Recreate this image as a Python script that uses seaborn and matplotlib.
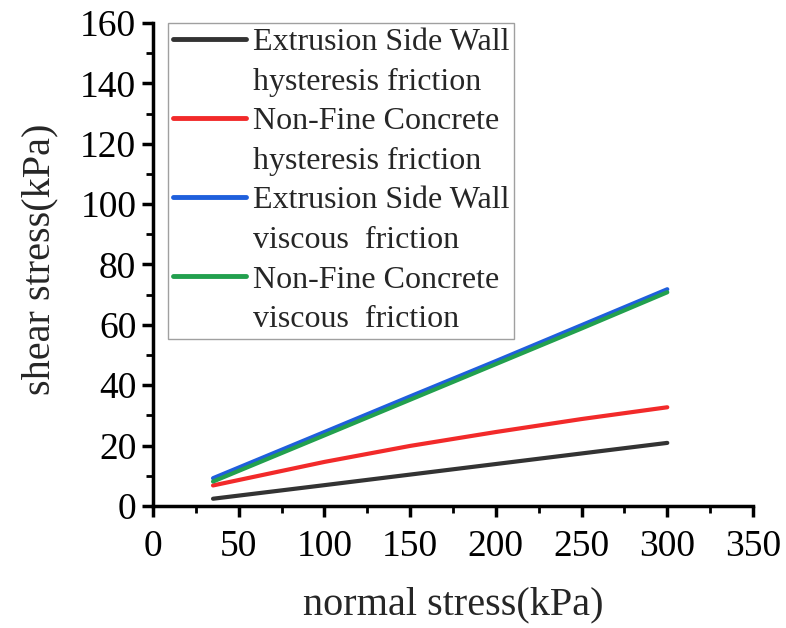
import pandas as pd
import matplotlib.pyplot as plt
import seaborn as sns
from matplotlib.lines import Line2D
from matplotlib.ticker import MultipleLocator

# Values
normal_stress = [35, 100, 150, 200, 250, 300]
esw_hysteresis = [2.4, 6.9, 10.4, 13.9, 17.4, 20.9]
nfc_hysteresis = [6.8, 14.6, 19.9, 24.5, 28.8, 32.7]
esw_viscous = [9.2, 24.5, 36.3, 48.0, 59.9, 71.8]
nfc_viscous = [8.1, 23.4, 35.2, 47.0, 58.8, 70.8]

series_names = ['Extrusion Side Wall\nhysteresis friction',
                'Non-Fine Concrete\nhysteresis friction',
                'Extrusion Side Wall\nviscous  friction',
                'Non-Fine Concrete\nviscous  friction']
colors = ['#333333', '#f22a2a', '#1f5fdc', '#22a04e']

df = pd.concat([
    pd.DataFrame({'normal': normal_stress, 'shear': vals, 'series': name})
    for name, vals in zip(series_names, [esw_hysteresis, nfc_hysteresis, esw_viscous, nfc_viscous])
])

sns.set_style('white')
plt.rcParams['font.family'] = ['Liberation Serif', 'DejaVu Serif']

fig = plt.figure(figsize=(7.86, 6.28), dpi=100)
ax = fig.add_axes([0.1947, 0.1943, 0.958 - 0.1947, 0.9634 - 0.1943])

sns.lineplot(data=df, x='normal', y='shear', hue='series', palette=colors,
             linewidth=3, legend=False, ax=ax)

ax.set_xlim(0, 350)
ax.set_ylim(0, 160)
ax.xaxis.set_major_locator(MultipleLocator(50))
ax.xaxis.set_minor_locator(MultipleLocator(25))
ax.yaxis.set_major_locator(MultipleLocator(20))
ax.yaxis.set_minor_locator(MultipleLocator(10))
ax.tick_params(which='major', direction='out', length=8, width=2.5, labelsize=27,
               bottom=True, left=True, colors='black')
ax.tick_params(axis='x', which='major', pad=9)
ax.tick_params(axis='y', which='major', pad=4)
ax.tick_params(which='minor', direction='out', length=5, width=2,
               bottom=True, left=True, colors='black')

for side in ['top', 'right']:
    ax.spines[side].set_visible(False)
for side in ['left', 'bottom']:
    ax.spines[side].set_linewidth(2.5)
    ax.spines[side].set_color('black')

ax.set_xlabel('normal stress(kPa)', fontsize=29, labelpad=16)
ax.set_ylabel('shear stress(kPa)', fontsize=29)
ax.yaxis.set_label_coords(-0.158, 0.51)

# legend: handle sits on the first line of each two-line label
blank = Line2D([], [], color='none')
handles, labels = [], []
for line, name in zip(ax.lines, series_names):
    first, second = name.split('\n')
    handles += [Line2D([], [], color=line.get_color(), linewidth=3.5), blank]
    labels += [first, second]

leg = ax.legend(handles, labels, loc='upper left', bbox_to_anchor=(0.025, 1.0),
                fontsize=23, handlelength=2.3, handletextpad=0.2, labelspacing=0.32,
                borderpad=0.15, fancybox=False, frameon=True, borderaxespad=0)
leg.get_frame().set_edgecolor('#888888')
leg.get_frame().set_linewidth(1)

fig.savefig('out.png', dpi=100)
